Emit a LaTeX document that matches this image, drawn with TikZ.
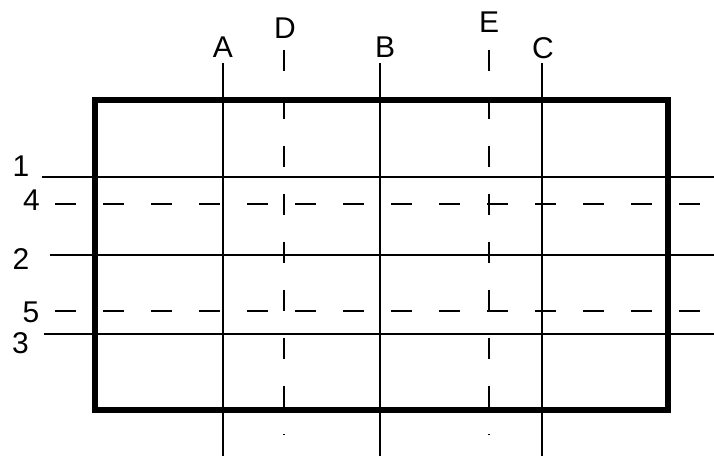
\documentclass[tikz,border=0pt]{standalone}
\usepackage{fontspec}
\setmainfont{Liberation Sans}
\begin{document}
\begin{tikzpicture}[x=1pt, y=-1pt,
        every node/.style={inner sep=0pt, font=\fontsize{30}{30}\selectfont},
        axis/.style={line width=2pt},
        hidden/.style={line width=2pt, dash pattern=on 21pt off 27pt},
        frame/.style={line width=5.5pt}]
        \useasboundingbox (0,0) rectangle (714,456);

        % Osie pionowe (ciągłe)
        \node (A) at (223, 47) {A};
        \node (B) at (385, 47) {B};
        \node (C) at (543, 48) {C};
        \coordinate (a1) at (223, 63);  \coordinate (a2) at (223, 456);
        \coordinate (b1) at (380, 63);  \coordinate (b2) at (380, 456);
        \coordinate (c1) at (542, 63);  \coordinate (c2) at (542, 456);

        % Osie pionowe (kreskowane)
        \node (D) at (285, 28) {D};
        \node (E) at (489, 22) {E};
        \coordinate (d1) at (284, 50);  \coordinate (d2) at (284, 435);
        \coordinate (e1) at (489, 50);  \coordinate (e2) at (489, 435);

        % Osie poziome (ciągłe)
        \node (n1) at (21, 166) {1};
        \node (n2) at (21, 259) {2};
        \node (n3) at (20.5, 343) {3};
        \coordinate (l1) at (42, 177);  \coordinate (r1) at (714, 177);
        \coordinate (l2) at (50, 255);  \coordinate (r2) at (714, 255);
        \coordinate (l3) at (44, 334);  \coordinate (r3) at (714, 334);

        % Osie poziome (kreskowane)
        \node (n4) at (31.5, 200) {4};
        \node (n5) at (31, 312.5) {5};
        \coordinate (l4) at (55, 204);  \coordinate (r4) at (700, 204);
        \coordinate (l5) at (55, 311);  \coordinate (r5) at (700, 311);

        % Linie siatki
        \draw[axis] (a1) -- (a2);
        \draw[axis] (b1) -- (b2);
        \draw[axis] (c1) -- (c2);
        \draw[axis] (l1) -- (r1);
        \draw[axis] (l2) -- (r2);
        \draw[axis] (l3) -- (r3);
        \draw[hidden] (d1) -- (d2);
        \draw[hidden] (e1) -- (e2);
        \draw[hidden] (l4) -- (r4);
        \draw[hidden] (l5) -- (r5);

        % Obrys
        \coordinate (p1) at (95, 100);
        \coordinate (p2) at (668, 410);
        \draw[frame] (p1) rectangle (p2);
    \end{tikzpicture}
\end{document}
